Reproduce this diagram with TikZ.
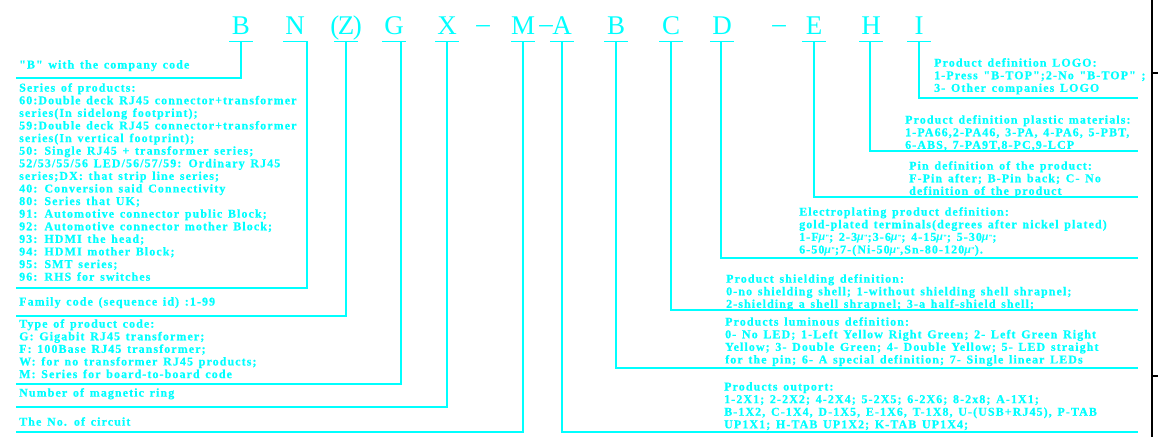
\documentclass[tikz,border=0pt]{standalone}
\usepackage{fontspec}
\usepackage{tikz}
\newfontfamily\cadfont[LetterSpace=9,WordSpace=1.4,BoldFeatures={FakeBold=0.6}]{Liberation Serif}
\newfontfamily\codefont{Liberation Serif}
\definecolor{cadcyan}{RGB}{0,255,255}
\newcommand{\mudeg}{\smash{{\itshape μ}\raisebox{1.5pt}{\fontsize{7}{7}\selectfont"}}}

\begin{document}
\begin{tikzpicture}[
  x=1pt, y=-1pt,
  code/.style  = {font=\codefont\fontsize{27}{27}\selectfont, text=cadcyan,
                  anchor=base, text depth=0pt, inner xsep=0pt, inner ysep=7pt},
  desc/.style  = {font=\cadfont\bfseries\fontsize{12}{12.6}\selectfont,
                  text=cadcyan, align=left, anchor=north west, inner sep=0pt},
  lead/.style  = {draw=cadcyan, line width=1.3pt},
]
\useasboundingbox (0,0) rectangle (1158,437);

%% --- code letters ---
\node[code] (cB)  at (241,34) {B};
\node[code] (cN)  at (295,34) {N};
\node[code] (cZ)  at (346,34) {(\kern-1.5pt Z\kern-1.5pt)};
\node[code] (cG)  at (394,34) {G};
\node[code] (cX)  at (447,34) {X};
\node[code] (dA)  at (483,32) {\textendash};
\node[code] (cM)  at (523,34) {M};
\node[code] (dB)  at (546,32) {\textendash};
\node[code] (cA)  at (562,34) {A};
\node[code] (cB2) at (616,34) {B};
\node[code] (cC)  at (671,34) {C};
\node[code] (cD)  at (722,34) {D};
\node[code] (dC)  at (779,32) {\textendash};
\node[code] (cE)  at (814,34) {E};
\node[code] (cH)  at (871,34) {H};
\node[code] (cI)  at (919,34) {I};

\foreach \c in {cB,cN,cZ,cG,cX,cM,cA,cB2,cC,cD,cE,cH,cI}
  \draw[lead] ([xshift=-12pt]\c.south) -- ([xshift=12pt]\c.south);

%% --- left descriptions ---
\node[desc] (tB) at (19,60) {"B" with the company code};
\node[desc] (tN) at (19,83) {Series of products:\\
60:Double deck RJ45 connector+transformer\\
series(In sidelong footprint);\\
59:Double deck RJ45 connector+transformer\\
series(In vertical footprint);\\
50: Single RJ45 + transformer series;\\
52/53/55/56 LED/56/57/59: Ordinary RJ45\\
series;DX: that strip line series;\\
40: Conversion said Connectivity\\
80: Series that UK;\\
91: Automotive connector public Block;\\
92: Automotive connector mother Block;\\
93: HDMI the head;\\
94: HDMI mother Block;\\
95: SMT series;\\
96: RHS for switches};
\node[desc] (tZ) at (19,297) {Family code (sequence id) :1-99};
\node[desc] (tG) at (19,319) {Type of product code:\\
G: Gigabit RJ45 transformer;\\
F: 100Base RJ45 transformer;\\
W: for no transformer RJ45 products;\\
M: Series for board-to-board code};
\node[desc] (tX) at (19,388) {Number of magnetic ring};
\node[desc] (tM) at (19,417) {The No. of circuit};

%% --- right descriptions ---
\node[desc] (tI)  at (934,58)  {Product definition LOGO:\\
1-Press "B-TOP";2-No "B-TOP" ;\\
3- Other companies LOGO};
\node[desc] (tH)  at (905,115) {Product definition plastic materials:\\
1-PA66,2-PA46, 3-PA, 4-PA6, 5-PBT,\\
6-ABS, 7-PA9T,8-PC,9-LCP};
\node[desc] (tE)  at (909,161) {Pin definition of the product:\\
F-Pin after; B-Pin back; C- No\\
definition of the product};
\node[desc] (tD)  at (799,207) {Electroplating product definition:\\
gold-plated terminals(degrees after nickel plated)\\
1-F\mudeg; 2-3\mudeg;3-6\mudeg; 4-15\mudeg; 5-30\mudeg;\\
6-50\mudeg;7-(Ni-50\mudeg,Sn-80-120\mudeg).};
\node[desc] (tC)  at (726,274) {Product shielding definition:\\
0-no shielding shell; 1-without shielding shell shrapnel;\\
2-shielding a shell shrapnel; 3-a half-shield shell;};
\node[desc] (tB2) at (725,317) {Products luminous definition:\\
0- No LED; 1-Left Yellow Right Green; 2- Left Green Right\\
Yellow; 3- Double Green; 4- Double Yellow; 5- LED straight\\
for the pin; 6- A special definition; 7- Single linear LEDs};
\node[desc] (tA)  at (724,382) {Products outport:\\
1-2X1; 2-2X2; 4-2X4; 5-2X5; 6-2X6; 8-2x8; A-1X1;\\
B-1X2, C-1X4, D-1X5, E-1X6, T-1X8, U-(USB+RJ45), P-TAB\\
UP1X1; H-TAB UP1X2; K-TAB UP1X4;};

%% --- leader ends ---
\coordinate (eB)  at (16,78);
\coordinate (eN)  at (16,288);
\coordinate (eZ)  at (16,316);
\coordinate (eG)  at (16,384);
\coordinate (eX)  at (16,407);
\coordinate (eM)  at (16,432);
\coordinate (eA)  at (1138,432);
\coordinate (eB2) at (1138,368);
\coordinate (eC)  at (1138,310);
\coordinate (eD)  at (1138,258);
\coordinate (eE)  at (1138,197);
\coordinate (eH)  at (1138,151);
\coordinate (eI)  at (1138,98);

%% --- leaders ---
\draw[lead] (cB.south) |- (eB);
\draw[lead] ([xshift=12pt]cN.south) |- (eN);
\draw[lead] (cZ.south) |- (eZ);
\draw[lead] ([xshift=7pt]cG.south) |- (eG);
\draw[lead] (cX.south) |- (eX);
\draw[lead] (cM.south) |- (eM);
\draw[lead] (cA.south) |- (eA);
\draw[lead] (cB2.south) |- (eB2);
\draw[lead] (cC.south) |- (eC);
\draw[lead] ([xshift=-1pt]cD.south) |- (eD);
\draw[lead] (cE.south) |- (eE);
\draw[lead] ([xshift=-1pt]cH.south) |- (eH);
\draw[lead] (cI.south) |- (eI);

%% --- frame edge ---
\draw[line width=1.5pt] (1152,0) -- (1152,437);
\draw[line width=1.5pt] (1152,73) -- (1158,73);
\draw[line width=1.5pt] (1152,376) -- (1158,376);

\end{tikzpicture}
\end{document}
